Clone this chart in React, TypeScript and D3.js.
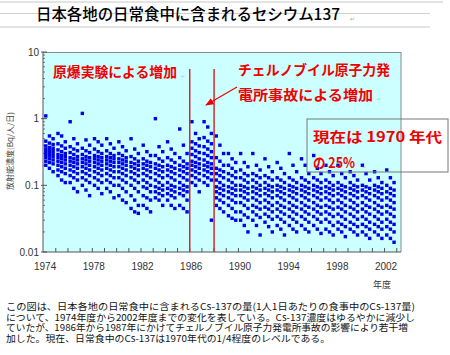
import React from "react";
import * as d3 from "d3";

const years = [1974,1975,1976,1977,1978,1979,1980,1981,1982,1983,1984,1985,1986,1987,1988,1989,1990,1991,1992,1993,1994,1995,1996,1997,1998,1999,2000,2001,2002];

const values: number[][] = [
  [1.1,0.55,0.5,0.46,0.43,0.41,0.39,0.37,0.36,0.35,0.34,0.33,0.32,0.31,0.3,0.29,0.28,0.27,0.26,0.25,0.24,0.23,0.22,0.21,0.2,0.18,0.16],
  [0.6,0.55,0.45,0.42,0.39,0.36,0.34,0.32,0.3,0.29,0.28,0.27,0.26,0.25,0.24,0.23,0.22,0.21,0.2,0.19,0.18,0.17,0.16,0.15,0.14,0.12,0.11],
  [0.9,0.5,0.42,0.38,0.35,0.33,0.31,0.29,0.27,0.26,0.25,0.24,0.23,0.22,0.21,0.2,0.19,0.18,0.17,0.16,0.15,0.14,0.13,0.12,0.11,0.09,0.08],
  [1.2,0.48,0.4,0.36,0.33,0.31,0.29,0.27,0.26,0.25,0.24,0.23,0.22,0.21,0.2,0.19,0.18,0.17,0.16,0.15,0.14,0.13,0.12,0.11,0.1,0.085,0.07],
  [0.5,0.45,0.4,0.35,0.32,0.3,0.28,0.27,0.26,0.25,0.24,0.23,0.22,0.21,0.2,0.19,0.18,0.17,0.16,0.15,0.14,0.13,0.12,0.11,0.1,0.09,0.075],
  [0.5,0.42,0.36,0.33,0.3,0.28,0.27,0.26,0.25,0.24,0.23,0.22,0.21,0.2,0.19,0.18,0.17,0.16,0.15,0.14,0.13,0.12,0.11,0.1,0.09,0.08,0.065],
  [0.45,0.38,0.33,0.3,0.28,0.26,0.25,0.24,0.23,0.22,0.21,0.2,0.19,0.18,0.17,0.16,0.15,0.14,0.13,0.12,0.11,0.1,0.09,0.08,0.07,0.06,0.055],
  [0.5,0.35,0.3,0.27,0.25,0.23,0.22,0.21,0.2,0.19,0.18,0.17,0.16,0.15,0.14,0.13,0.12,0.11,0.1,0.09,0.08,0.07,0.06,0.05,0.045,0.04,0.038],
  [0.4,0.32,0.28,0.25,0.23,0.22,0.21,0.2,0.19,0.18,0.17,0.16,0.15,0.14,0.13,0.12,0.11,0.1,0.095,0.09,0.08,0.07,0.065,0.06,0.05,0.045,0.04],
  [1.0,0.38,0.32,0.28,0.25,0.23,0.21,0.2,0.19,0.18,0.17,0.16,0.15,0.14,0.13,0.12,0.11,0.1,0.095,0.09,0.085,0.08,0.075,0.07,0.065,0.06,0.05],
  [0.45,0.35,0.3,0.26,0.24,0.22,0.2,0.19,0.18,0.17,0.16,0.15,0.14,0.13,0.12,0.11,0.1,0.095,0.09,0.085,0.08,0.075,0.07,0.065,0.06,0.05,0.045],
  [0.7,0.4,0.3,0.26,0.23,0.21,0.2,0.19,0.18,0.17,0.16,0.15,0.14,0.13,0.12,0.11,0.1,0.095,0.09,0.085,0.08,0.075,0.07,0.06,0.05,0.045,0.04],
  [0.9,0.6,0.5,0.45,0.42,0.39,0.36,0.33,0.31,0.29,0.27,0.25,0.23,0.22,0.21,0.2,0.19,0.18,0.17,0.16,0.15,0.14,0.13,0.12,0.11,0.1,0.08],
  [0.9,0.75,0.6,0.52,0.46,0.42,0.38,0.35,0.32,0.3,0.28,0.26,0.24,0.22,0.21,0.2,0.19,0.18,0.17,0.16,0.15,0.14,0.13,0.12,0.11,0.1,0.03],
  [0.55,0.4,0.3,0.26,0.23,0.2,0.18,0.17,0.16,0.15,0.14,0.13,0.12,0.11,0.1,0.095,0.09,0.085,0.08,0.075,0.07,0.065,0.06,0.055,0.05,0.045,0.04],
  [0.3,0.25,0.22,0.2,0.18,0.16,0.15,0.14,0.13,0.12,0.11,0.1,0.095,0.09,0.085,0.08,0.075,0.07,0.065,0.06,0.055,0.05,0.045,0.04,0.035,0.032,0.03],
  [0.3,0.22,0.19,0.17,0.15,0.14,0.13,0.12,0.11,0.1,0.095,0.09,0.085,0.08,0.075,0.07,0.065,0.06,0.055,0.05,0.045,0.04,0.036,0.033,0.03,0.025,0.02],
  [0.3,0.2,0.17,0.15,0.14,0.13,0.12,0.11,0.1,0.095,0.09,0.085,0.08,0.075,0.07,0.065,0.06,0.055,0.05,0.047,0.044,0.04,0.036,0.033,0.03,0.025,0.018],
  [0.25,0.19,0.16,0.14,0.13,0.12,0.11,0.1,0.095,0.09,0.085,0.08,0.075,0.07,0.065,0.06,0.055,0.05,0.047,0.044,0.04,0.037,0.034,0.031,0.028,0.024,0.02],
  [0.22,0.18,0.15,0.13,0.12,0.11,0.1,0.095,0.09,0.085,0.08,0.075,0.07,0.065,0.06,0.055,0.05,0.047,0.044,0.04,0.037,0.034,0.031,0.028,0.025,0.022,0.018],
  [0.3,0.2,0.16,0.13,0.12,0.11,0.1,0.095,0.09,0.085,0.08,0.075,0.07,0.065,0.06,0.055,0.05,0.047,0.044,0.04,0.037,0.034,0.031,0.028,0.025,0.022,0.02],
  [0.25,0.2,0.15,0.13,0.12,0.11,0.1,0.095,0.09,0.085,0.08,0.075,0.07,0.065,0.06,0.055,0.05,0.047,0.044,0.04,0.037,0.034,0.031,0.028,0.025,0.022,0.02],
  [0.28,0.18,0.15,0.13,0.12,0.11,0.1,0.095,0.09,0.085,0.08,0.075,0.07,0.065,0.06,0.055,0.05,0.047,0.044,0.04,0.037,0.034,0.031,0.028,0.025,0.022,0.019],
  [0.2,0.16,0.14,0.12,0.11,0.1,0.095,0.09,0.085,0.08,0.075,0.07,0.065,0.06,0.055,0.05,0.047,0.044,0.04,0.037,0.034,0.031,0.028,0.025,0.022,0.02,0.018],
  [0.2,0.15,0.13,0.11,0.1,0.095,0.09,0.085,0.08,0.075,0.07,0.065,0.06,0.055,0.05,0.047,0.044,0.04,0.037,0.034,0.031,0.028,0.026,0.024,0.022,0.02,0.017],
  [0.16,0.14,0.12,0.11,0.1,0.095,0.09,0.085,0.08,0.075,0.07,0.065,0.06,0.055,0.05,0.047,0.044,0.04,0.037,0.034,0.031,0.028,0.026,0.024,0.022,0.02,0.018],
  [0.2,0.15,0.12,0.1,0.095,0.09,0.085,0.08,0.075,0.07,0.065,0.06,0.055,0.05,0.047,0.044,0.04,0.037,0.034,0.031,0.028,0.026,0.024,0.022,0.02,0.018,0.016],
  [0.16,0.13,0.11,0.1,0.095,0.09,0.085,0.08,0.075,0.07,0.065,0.06,0.055,0.05,0.047,0.044,0.04,0.037,0.034,0.031,0.028,0.026,0.024,0.022,0.02,0.018,0.016],
  [0.17,0.13,0.11,0.1,0.09,0.085,0.08,0.075,0.07,0.065,0.06,0.055,0.05,0.047,0.044,0.04,0.037,0.034,0.031,0.028,0.026,0.024,0.022,0.02,0.018,0.016,0.014],
];

const xTickLabels = [1974, 1978, 1982, 1986, 1990, 1994, 1998, 2002];
const yTickValues = [0.01, 0.1, 1, 10];
const yTickLabels = ["0.01", "0.1", "1", "10"];
const eventYears = [1986, 1988];

const title = "日本各地の日常食中に含まれるセシウム137";
const yLabel = "放射能濃度(Bq/人/日)";
const xLabel = "年度";
const note1 = "原爆実験による増加";
const note2a = "チェルノブイル原子力発";
const note2b = "電所事故による増加";
const note3a = "現在は 1970 年代";
const note3b = "の 25%";
const bodyLines = [
  "この図は、日本各地の日常食中に含まれるCs-137の量(1人1日あたりの食事中のCs-137量)",
  "について、1974年度から2002年度までの変化を表している。Cs-137濃度はゆるやかに減少し",
  "ていたが、1986年から1987年にかけてチェルノブイル原子力発電所事故の影響により若干増",
  "加した。現在、日常食中のCs-137は1970年代の1/4程度のレベルである。",
];

const subOffsets = [0.18, 0.48, 0.78];

export default function App() {
  const L = 43, R = 401, T = 52, B = 252;
  const x = d3.scaleLinear().domain([1973.95, 2003.35]).range([L, R]);
  const y = d3.scaleLog().domain([0.01, 10]).range([B, T]);
  const jp = "'Noto Sans CJK JP', sans-serif";
  const lat = "'Liberation Sans', Arial, sans-serif";
  const red = "#f00000";

  const minorY: number[] = [];
  [0.01, 0.1, 1].forEach((d) => {
    for (let k = 2; k <= 9; k++) minorY.push(d * k);
  });
  const yearTicks = d3.range(1975, 2004);

  const points: { x: number; y: number }[] = [];
  years.forEach((yr, i) => {
    values[i].forEach((v, j) => {
      points.push({ x: x(yr + subOffsets[j % 3]), y: y(v) });
    });
  });

  const bodyWidths = [409, 409, 402, 324];
  const bodyBase = [309.5, 320.5, 331, 341.5];
  const ps = 3.4;

  return (
    <svg width={450} height={355} style={{ position: "absolute", left: 0, top: 0, background: "#fff" }}>
      <defs>
        <marker id="ah" viewBox="0 0 10 10" refX="9" refY="5" markerWidth="7" markerHeight="7" orient="auto">
          <path d="M0,1 L10,5 L0,9 z" fill={red} />
        </marker>
      </defs>
      {/* page lines */}
      <line x1={0} x2={443} y1={2} y2={2} stroke="#c8c8c8" />
      <line x1={0} x2={430} y1={13.5} y2={13.5} stroke="#d0d0d0" />
      <line x1={0} x2={430} y1={27} y2={27} stroke="#c8c8c8" />
      <text x={36} y={20} fontFamily={jp} fontSize={16} fontWeight={500} fill="#000" textLength={304} lengthAdjust="spacingAndGlyphs">{title}</text>
      <text x={350} y={21} fontFamily={jp} fontSize={6} fill="#aaa">↵</text>

      {/* plot area */}
      <rect x={L} y={T} width={R - L} height={B - T} fill="#ccffff" />
      <line x1={L} x2={R} y1={T + 0.5} y2={T + 0.5} stroke="#8a8a8a" />
      <line x1={R} x2={R} y1={T} y2={B} stroke="#8a8a8a" />
      <line x1={L} x2={L} y1={T} y2={B} stroke="#555" />
      <line x1={L} x2={R} y1={B} y2={B} stroke="#555" />

      {/* y ticks */}
      {minorY.map((v, i) => (
        <line key={"my" + i} x1={L} x2={L + 2} y1={y(v)} y2={y(v)} stroke="#555" strokeWidth={0.8} />
      ))}
      {yTickValues.map((v, i) => (
        <g key={"yt" + i}>
          <line x1={L - 2} x2={L + 4} y1={y(v)} y2={y(v)} stroke="#555" />
          <text x={L - 4} y={y(v) + 3.5} textAnchor="end" fontFamily={lat} fontSize={10} fill="#333">{yTickLabels[i]}</text>
        </g>
      ))}
      {/* x ticks */}
      {yearTicks.map((yr) => (
        <line key={"xt" + yr} x1={x(yr)} x2={x(yr)} y1={B} y2={B - 4} stroke="#555" />
      ))}
      {xTickLabels.map((yr) => (
        <text key={"xl" + yr} x={x(yr) + 1.5} y={269.5} textAnchor="middle" fontFamily={lat} fontSize={10} fill="#333">{yr}</text>
      ))}

      {/* points */}
      {points.map((p, i) => (
        <rect key={"p" + i} x={p.x - ps / 2} y={p.y - ps / 2} width={ps} height={ps} fill="#0000e6" />
      ))}

      {/* event lines */}
      {eventYears.map((yr) => (
        <line key={"ev" + yr} x1={x(yr)} x2={x(yr)} y1={69} y2={B} stroke="#d42a2a" strokeWidth={1.5} />
      ))}

      {/* axis labels */}
      <text transform="translate(13,151) rotate(-90)" textAnchor="middle" fontFamily={jp} fontSize={8} fill="#444" textLength={78} lengthAdjust="spacingAndGlyphs">{yLabel}</text>
      <text x={382} y={288} textAnchor="middle" fontFamily={jp} fontSize={9} fill="#333">{xLabel}</text>

      {/* annotations */}
      <text x={53} y={77} fontFamily={jp} fontSize={14} fontWeight={700} fill={red} textLength={124} lengthAdjust="spacingAndGlyphs">{note1}</text>
      <text x={181} y={78} fontFamily={jp} fontSize={5} fill="#bbb">↵</text>
      <text x={238} y={75} fontFamily={jp} fontSize={14} fontWeight={700} fill={red} textLength={152} lengthAdjust="spacingAndGlyphs">{note2a}</text>
      <text x={238} y={100} fontFamily={jp} fontSize={14} fontWeight={700} fill={red} textLength={135} lengthAdjust="spacingAndGlyphs">{note2b}</text>
      <text x={377} y={101} fontFamily={jp} fontSize={5} fill="#bbb">↵</text>
      <line x1={237} y1={87} x2={206} y2={105} stroke={red} strokeWidth={1.2} markerEnd="url(#ah)" />

      <rect x={307} y={119} width={141} height={53} fill="none" stroke="#777" />
      <text x={313} y={142} fontFamily={jp} fontSize={14} fontWeight={700} fill={red} textLength={129} lengthAdjust="spacingAndGlyphs">{note3a}</text>
      <text x={313} y={168} fontFamily={jp} fontSize={14} fontWeight={700} fill={red} textLength={42} lengthAdjust="spacingAndGlyphs">{note3b}</text>
      <text x={362} y={169} fontFamily={jp} fontSize={5} fill="#bbb">↵</text>

      {/* body text */}
      {bodyLines.map((s, i) => (
        <text key={"b" + i} x={6} y={bodyBase[i]} fontFamily={jp} fontSize={9.3} fill="#111" textLength={bodyWidths[i]} lengthAdjust="spacingAndGlyphs">{s}</text>
      ))}
    </svg>
  );
}
